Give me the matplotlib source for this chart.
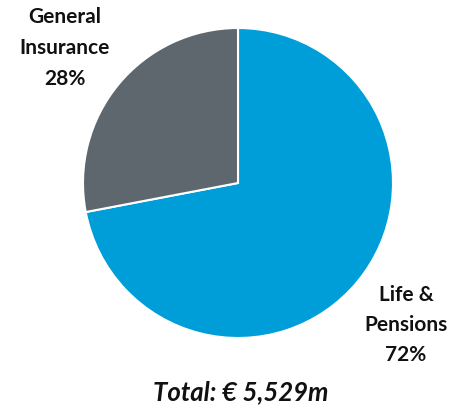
import matplotlib
matplotlib.use("Agg")
import matplotlib.pyplot as plt

# Segment data
segments = ["Life &\nPensions", "General\nInsurance"]
shares = [72, 28]
colors = ["#009ED8", "#5E676E"]
total_label = "Total: € 5,529m"

W, H = 450, 406
fig = plt.figure(figsize=(W / 100, H / 100), dpi=100)
ax = fig.add_axes([0, 0, 1, 1])

cx, cy, r = 238, H - 184, 155
ax.pie(shares, colors=colors, startangle=90, counterclock=False,
       center=(cx, cy), radius=r,
       wedgeprops=dict(edgecolor="white", linewidth=1.5))
ax.set_xlim(0, W)
ax.set_ylim(0, H)
ax.set_aspect("equal")
ax.axis("off")

font = "Lato"
ax.text(65, H - 48, f"{segments[1]}\n{shares[1]}%", ha="center", va="center",
        fontsize=15, fontweight="bold", family=font, linespacing=1.68,
        color="#111111")
ax.text(406, H - 325, f"{segments[0]}\n{shares[0]}%", ha="center", va="center",
        fontsize=15, fontweight="bold", family=font, linespacing=1.62,
        color="#111111")
ax.text(241, H - 392, total_label, ha="center", va="center",
        fontsize=18.5, fontweight="bold", fontstyle="italic", family=font,
        color="#111111")

fig.savefig("out.png", dpi=100)
